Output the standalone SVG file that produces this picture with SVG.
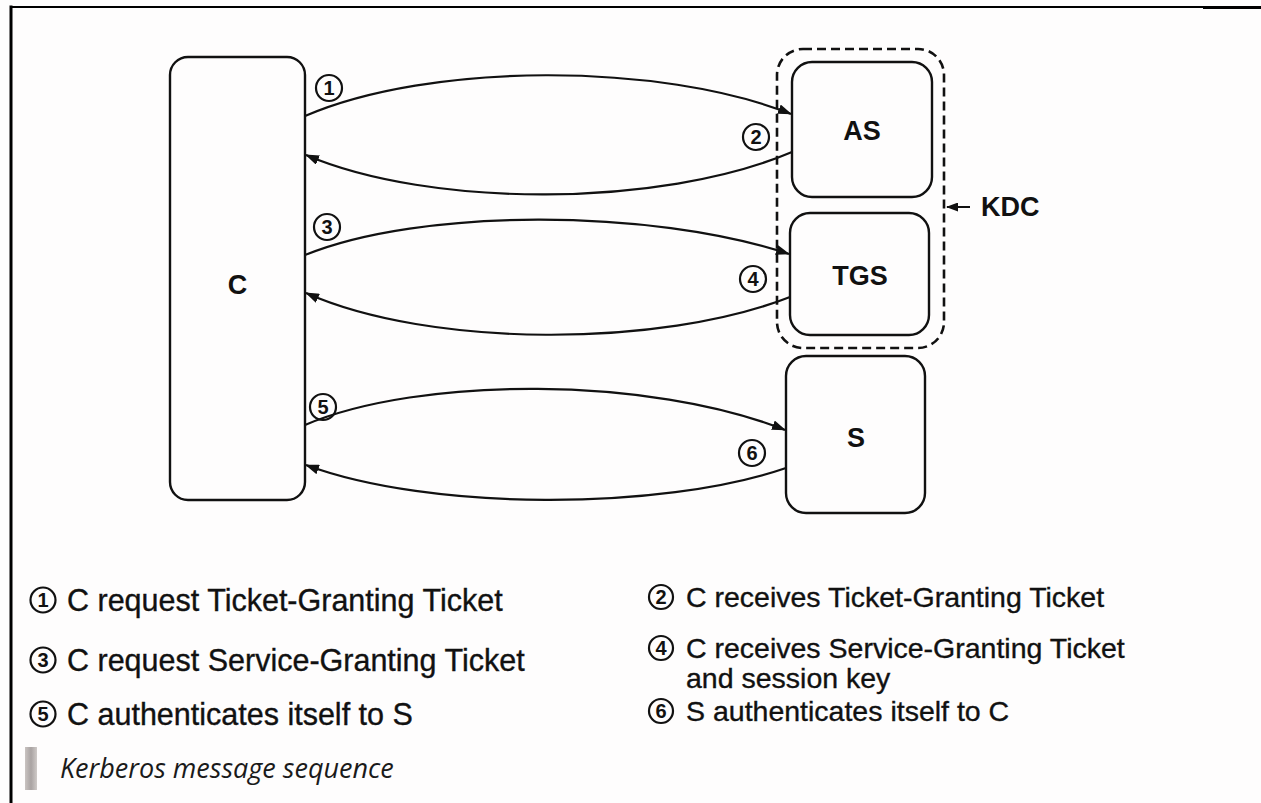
<svg xmlns="http://www.w3.org/2000/svg" width="1261" height="803" viewBox="0 0 1261 803">
  <defs>
    <marker id="arrow" markerWidth="14" markerHeight="10" refX="13" refY="5" orient="auto" markerUnits="userSpaceOnUse">
      <path d="M0,0 L14,5 L0,10 z" fill="#111"/>
    </marker>
    <marker id="arrowSmall" markerWidth="12" markerHeight="9" refX="11" refY="4.5" orient="auto" markerUnits="userSpaceOnUse">
      <path d="M0,0 L12,4.5 L0,9 z" fill="#111"/>
    </marker>
    <linearGradient id="barShade" x1="0" y1="0" x2="1" y2="0">
      <stop offset="0" stop-color="#c9c3c1"/>
      <stop offset="0.5" stop-color="#a9a3a2"/>
      <stop offset="1" stop-color="#cfcac8"/>
    </linearGradient>
  </defs>
  <style>
    .box { fill: none; stroke: #111; stroke-width: 2.4; }
    .kdc { fill: none; stroke: #111; stroke-width: 2.6; stroke-dasharray: 9 5; }
    .conn { fill: none; stroke: #111; stroke-width: 2.2; marker-end: url(#arrow); }
    .lbl { font-family: "Liberation Sans", Arial, sans-serif; font-weight: bold; font-size: 27px; fill: #111; text-anchor: middle; }
    .num circle { fill: none; stroke: #111; stroke-width: 2.2; }
    .num text { font-family: "Liberation Sans", Arial, sans-serif; font-size: 20px; font-weight: bold; fill: #111; text-anchor: middle; }
    .leg { font-family: "Liberation Sans", Arial, sans-serif; fill: #111; stroke: #111; stroke-width: 0.35; }
    .leg-l { font-size: 30.5px; }
    .leg-r { font-size: 28.5px; }
    .cap { font-family: "Open Sans", "Noto Sans", sans-serif; font-style: italic; font-size: 27px; fill: #1a1a1a; }
    .frame { fill: none; stroke: #000; }
  </style>

  <!-- page -->
  <rect x="0" y="0" width="1261" height="803" fill="#fefdfd"/>
  <path class="frame" d="M10,7 H1205" stroke-width="2"/>
  <path class="frame" d="M1203,7.5 H1261" stroke-width="3"/>
  <path class="frame" d="M11,5.5 V803" stroke-width="3"/>

  <!-- client -->
  <g id="node-c">
    <rect class="box" x="170" y="57" width="135" height="443" rx="18"/>
    <text class="lbl" x="237.5" y="294">C</text>
  </g>

  <!-- key distribution centre -->
  <g id="node-kdc">
    <rect class="kdc" x="777" y="49" width="167" height="299" rx="26"/>
    <path d="M970,207 H947" fill="none" stroke="#111" stroke-width="2" marker-end="url(#arrowSmall)"/>
    <text class="lbl" x="981" y="216" style="text-anchor:start">KDC</text>
  </g>

  <g id="node-as">
    <rect class="box" x="792" y="62" width="140" height="135" rx="20"/>
    <text class="lbl" x="862" y="140">AS</text>
  </g>

  <g id="node-tgs">
    <rect class="box" x="790" y="213" width="139" height="122" rx="20"/>
    <text class="lbl" x="860" y="285">TGS</text>
  </g>

  <g id="node-s">
    <rect class="box" x="786" y="356" width="139" height="157" rx="20"/>
    <text class="lbl" x="856" y="447">S</text>
  </g>

  <!-- message arrows -->
  <g id="connectors">
    <path class="conn" d="M305,116 C430,62 660,62 791,114"/>
    <path class="conn" d="M792,152 C660,208 430,208 306,155"/>
    <path class="conn" d="M305,255 C420,208 650,208 789,254"/>
    <path class="conn" d="M790,297 C660,348 430,348 306,293"/>
    <path class="conn" d="M305,425 C420,376 650,376 785,430"/>
    <path class="conn" d="M786,468 C660,511 430,511 306,465"/>
  </g>

  <!-- step numbers on the arrows -->
  <g id="step-numbers" class="num">
    <circle cx="329" cy="88" r="13"/><text x="329" y="95">1</text>
    <circle cx="756" cy="137" r="13"/><text x="756" y="144">2</text>
    <circle cx="327" cy="227" r="13"/><text x="327" y="234">3</text>
    <circle cx="753" cy="279" r="13"/><text x="753" y="286">4</text>
    <circle cx="323" cy="407" r="13"/><text x="323" y="414">5</text>
    <circle cx="752" cy="453" r="13"/><text x="752" y="460">6</text>
  </g>

  <!-- legend -->
  <g id="legend">
    <g class="num">
      <circle cx="43" cy="600" r="12.5"/><text x="43" y="607">1</text>
      <circle cx="43" cy="660" r="12.5"/><text x="43" y="667">3</text>
      <circle cx="43" cy="714" r="12.5"/><text x="43" y="721">5</text>
      <circle cx="661" cy="597" r="12"/><text x="661" y="604">2</text>
      <circle cx="661" cy="648" r="12"/><text x="661" y="655">4</text>
      <circle cx="661" cy="711" r="12"/><text x="661" y="718">6</text>
    </g>
    <text class="leg leg-l" x="67" y="611">C request Ticket-Granting Ticket</text>
    <text class="leg leg-l" x="67" y="671">C request Service-Granting Ticket</text>
    <text class="leg leg-l" x="67" y="725">C authenticates itself to S</text>
    <text class="leg leg-r" x="686" y="607">C receives Ticket-Granting Ticket</text>
    <text class="leg leg-r" x="686" y="658">C receives Service-Granting Ticket</text>
    <text class="leg leg-r" x="686" y="688">and session key</text>
    <text class="leg leg-r" x="686" y="721">S authenticates itself to C</text>
  </g>

  <!-- caption -->
  <g id="caption">
    <rect x="25" y="747" width="12" height="43" fill="url(#barShade)"/>
    <text class="cap" x="60" y="778">Kerberos message sequence</text>
  </g>
</svg>
